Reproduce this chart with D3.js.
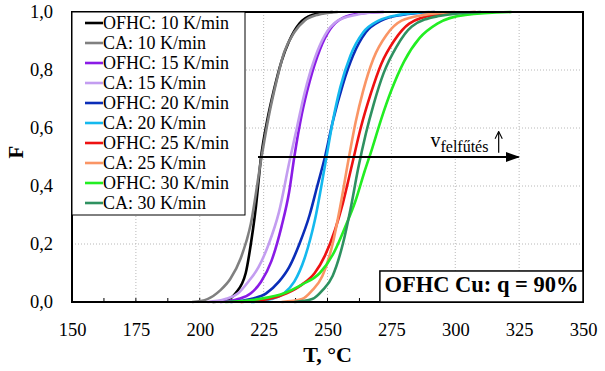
<!DOCTYPE html>
<html>
<head>
<meta charset="utf-8">
<script src="https://cdn.jsdelivr.net/npm/d3@7"></script>
<style>
  body { margin: 0; background: #fff; }
</style>
</head>
<body>
<div id="chart"></div>
<script>
// T [°C], F values
const seriesNames = [
  'OFHC: 10 K/min', 'CA: 10 K/min', 'OFHC: 15 K/min', 'CA: 15 K/min',
  'OFHC: 20 K/min', 'CA: 20 K/min', 'OFHC: 25 K/min', 'CA: 25 K/min',
  'OFHC: 30 K/min', 'CA: 30 K/min'
]
const seriesColors = [
  '#000000', '#808080', '#8a1be6', '#c39df0',
  '#0a2db8', '#14b9ee', '#ee1111', '#fa9565',
  '#22ee22', '#2e9160'
]
const ofhc10 = [[205,0],[210,0.005],[214,0.03],[218,0.1],[220,0.2],[222,0.33],[224,0.5],[226.5,0.63],[229,0.73],[232,0.83],[235,0.9],[239,0.96],[244,0.99],[252,1]]
const ca10 = [[197,0],[203,0.01],[208,0.04],[212,0.08],[216,0.15],[220,0.27],[224,0.49],[227,0.64],[230,0.76],[233,0.86],[237,0.93],[241,0.97],[246,0.99],[254,1]]
const ofhc15 = [[208,0],[215,0.01],[220,0.03],[224,0.07],[228,0.14],[232,0.26],[235,0.38],[237,0.5],[240,0.65],[243,0.76],[247,0.87],[251,0.94],[256,0.98],[263,0.995],[272,1]]
const ca15 = [[203,0],[210,0.01],[215,0.03],[219,0.07],[223,0.12],[227,0.2],[231,0.31],[235,0.48],[238,0.6],[241,0.72],[245,0.84],[249,0.92],[254,0.97],[261,0.99],[270,1]]
const ofhc20 = [[212,0],[220,0.01],[226,0.03],[231,0.07],[235,0.12],[239,0.2],[243,0.3],[246,0.4],[249,0.5],[252,0.62],[256,0.75],[260,0.85],[265,0.93],[271,0.97],[279,0.99],[292,1]]
const ca20 = [[220,0],[228,0.01],[233,0.03],[237,0.07],[241,0.15],[245,0.28],[249,0.47],[252,0.62],[255,0.74],[259,0.85],[264,0.93],[270,0.97],[278,0.99],[290,1]]
const ofhc25 = [[216,0],[227,0.01],[234,0.03],[240,0.06],[245,0.1],[249,0.16],[253,0.25],[256,0.34],[259.5,0.47],[263,0.6],[267,0.72],[271,0.82],[276,0.9],[282,0.96],[292,0.99],[308,1]]
const ca25 = [[232,0],[240,0.01],[244,0.04],[248,0.09],[252,0.2],[255,0.33],[258,0.48],[261,0.62],[264,0.73],[268,0.84],[273,0.92],[279,0.97],[288,0.99],[300,1]]
const ofhc30 = [[210,0],[223,0.01],[233,0.03],[240,0.06],[247,0.1],[252.5,0.17],[257,0.26],[261,0.35],[264.5,0.45],[267.5,0.53],[271,0.63],[275,0.73],[280,0.83],[286,0.91],[293,0.96],[304,0.99],[322,1]]
const ca30 = [[237,0],[244,0.01],[248,0.04],[252,0.09],[256,0.2],[259,0.32],[262,0.46],[265,0.58],[268,0.68],[272,0.79],[277,0.88],[283,0.95],[293,0.985],[310,1]]
const seriesData = [ofhc10, ca10, ofhc15, ca15, ofhc20, ca20, ofhc25, ca25, ofhc30, ca30]

const xTicks = [150, 175, 200, 225, 250, 275, 300, 325, 350]
const yTicks = [0, 0.2, 0.4, 0.6, 0.8, 1.0]

// heating-rate arrow at F = 0.5
const arrowFrom = [222.8, 0.5]
const arrowTo = [324.8, 0.5]

const serif = "'Liberation Serif', 'Times New Roman', Times, serif"

const margin = { top: 12, left: 72, right: 22, bottom: 69 }
const width = 605 - margin.left - margin.right
const height = 371 - margin.top - margin.bottom

const svg = d3
  .select('#chart')
  .append('svg')
  .attr('width', 605)
  .attr('height', 371)
  .attr('font-family', serif)

const g = svg.append('g')
  .attr('transform', 'translate(' + margin.left + ',' + margin.top + ')')

const xPositionScale = d3.scaleLinear().domain([150, 350]).range([0, width])
const yPositionScale = d3.scaleLinear().domain([0, 1]).range([height, 0])

// grid
g.append('g')
  .selectAll('line')
  .data(xTicks.slice(1, -1))
  .enter()
  .append('line')
  .attr('x1', d => xPositionScale(d))
  .attr('x2', d => xPositionScale(d))
  .attr('y1', 0)
  .attr('y2', height)
  .attr('stroke', '#b8b8b8')
  .attr('stroke-dasharray', '1,2')

g.append('g')
  .selectAll('line')
  .data(yTicks.slice(1, -1))
  .enter()
  .append('line')
  .attr('x1', 0)
  .attr('x2', width)
  .attr('y1', d => yPositionScale(d))
  .attr('y2', d => yPositionScale(d))
  .attr('stroke', '#b8b8b8')
  .attr('stroke-dasharray', '1,2')

// minor ticks on the bottom axis
g.append('g')
  .selectAll('line')
  .data(d3.range(150, 351, 12.5))
  .enter()
  .append('line')
  .attr('x1', d => xPositionScale(d))
  .attr('x2', d => xPositionScale(d))
  .attr('y1', height)
  .attr('y2', height - 4)
  .attr('stroke', '#000')

// axes
const xAxis = d3.axisBottom(xPositionScale).tickValues(xTicks).tickSize(0).tickPadding(21)
g.append('g')
  .attr('class', 'axis x-axis')
  .attr('transform', 'translate(0,' + height + ')')
  .call(xAxis)

const yAxis = d3.axisLeft(yPositionScale)
  .tickValues(yTicks)
  .tickSize(0)
  .tickPadding(19)
  .tickFormat(d => d3.format('.1f')(d).replace('.', ','))
g.append('g')
  .attr('class', 'axis y-axis')
  .call(yAxis)

svg.selectAll('.axis .domain').remove()
svg.selectAll('.axis').attr('font-family', serif).attr('font-size', 18.5)
svg.selectAll('.axis text').attr('fill', '#000')

// curves
const line = d3.line()
  .x(d => xPositionScale(d[0]))
  .y(d => yPositionScale(d[1]))
  .curve(d3.curveMonotoneX)

g.append('g')
  .selectAll('path')
  .data(seriesData)
  .enter()
  .append('path')
  .attr('d', line)
  .attr('fill', 'none')
  .attr('stroke', (d, i) => seriesColors[i])
  .attr('stroke-width', 2.6)

// plot border
g.append('rect')
  .attr('width', width)
  .attr('height', height)
  .attr('fill', 'none')
  .attr('stroke', '#000')
  .attr('stroke-width', 2)

// legend
const legend = g.append('g')
legend.append('rect')
  .attr('x', 0)
  .attr('y', 0)
  .attr('width', 173)
  .attr('height', 203)
  .attr('fill', '#fff')
  .attr('stroke', '#000')
  .attr('stroke-width', 1)

const items = legend.selectAll('.item')
  .data(seriesNames)
  .enter()
  .append('g')
  .attr('transform', (d, i) => 'translate(0,' + (11 + i * 20) + ')')
items.append('line')
  .attr('x1', 13)
  .attr('x2', 31)
  .attr('stroke', (d, i) => seriesColors[i])
  .attr('stroke-width', 2.6)
items.append('text')
  .attr('x', 31)
  .attr('dy', '0.33em')
  .attr('font-size', 18)
  .text(d => d)

// heating rate arrow
const defs = svg.append('defs')
defs.append('marker')
  .attr('id', 'head')
  .attr('viewBox', '0 0 10 10')
  .attr('refX', 9)
  .attr('refY', 5)
  .attr('markerWidth', 7)
  .attr('markerHeight', 7)
  .attr('orient', 'auto')
  .append('path')
  .attr('d', 'M0,1.5 L10,5 L0,8.5 Z')
  .attr('fill', '#000')
defs.append('marker')
  .attr('id', 'thin')
  .attr('viewBox', '0 0 10 10')
  .attr('refX', 8)
  .attr('refY', 5)
  .attr('markerWidth', 9)
  .attr('markerHeight', 9)
  .attr('markerUnits', 'userSpaceOnUse')
  .attr('orient', 'auto')
  .append('path')
  .attr('d', 'M1,1 L9,5 L1,9')
  .attr('fill', 'none')
  .attr('stroke', '#000')
  .attr('stroke-width', 1.2)

g.append('line')
  .attr('x1', xPositionScale(arrowFrom[0]))
  .attr('x2', xPositionScale(arrowTo[0]))
  .attr('y1', yPositionScale(arrowFrom[1]))
  .attr('y2', yPositionScale(arrowTo[1]))
  .attr('stroke', '#000')
  .attr('stroke-width', 2)
  .attr('marker-end', 'url(#head)')

const vText = g.append('text')
  .attr('x', xPositionScale(290.3))
  .attr('y', yPositionScale(0.535))
  .attr('font-size', 20)
vText.append('tspan').text('v')
vText.append('tspan').attr('dy', 5).attr('font-size', 16).text('felfűtés')

g.append('line')
  .attr('x1', xPositionScale(317))
  .attr('x2', xPositionScale(317))
  .attr('y1', yPositionScale(0.515))
  .attr('y2', yPositionScale(0.585))
  .attr('stroke', '#000')
  .attr('stroke-width', 1.2)
  .attr('marker-end', 'url(#thin)')

// sample label box
g.append('rect')
  .attr('x', xPositionScale(270.5))
  .attr('y', yPositionScale(0.107))
  .attr('width', xPositionScale(350) - xPositionScale(270.5))
  .attr('height', yPositionScale(0) - yPositionScale(0.107))
  .attr('fill', '#fff')
  .attr('stroke', '#000')
  .attr('stroke-width', 1.5)
g.append('text')
  .attr('x', (xPositionScale(270.5) + xPositionScale(350)) / 2)
  .attr('y', yPositionScale(0.034))
  .attr('text-anchor', 'middle')
  .attr('font-size', 22.5)
  .attr('font-weight', 'bold')
  .text('OFHC Cu: q = 90%')

// axis titles
svg.append('text')
  .attr('x', margin.left + width / 2)
  .attr('y', 362)
  .attr('text-anchor', 'middle')
  .attr('font-size', 22)
  .attr('font-weight', 'bold')
  .text('T, °C')

svg.append('text')
  .attr('transform', 'translate(23,152) rotate(-90)')
  .attr('text-anchor', 'middle')
  .attr('font-size', 21)
  .attr('font-weight', 'bold')
  .text('F')
</script>
</body>
</html>
